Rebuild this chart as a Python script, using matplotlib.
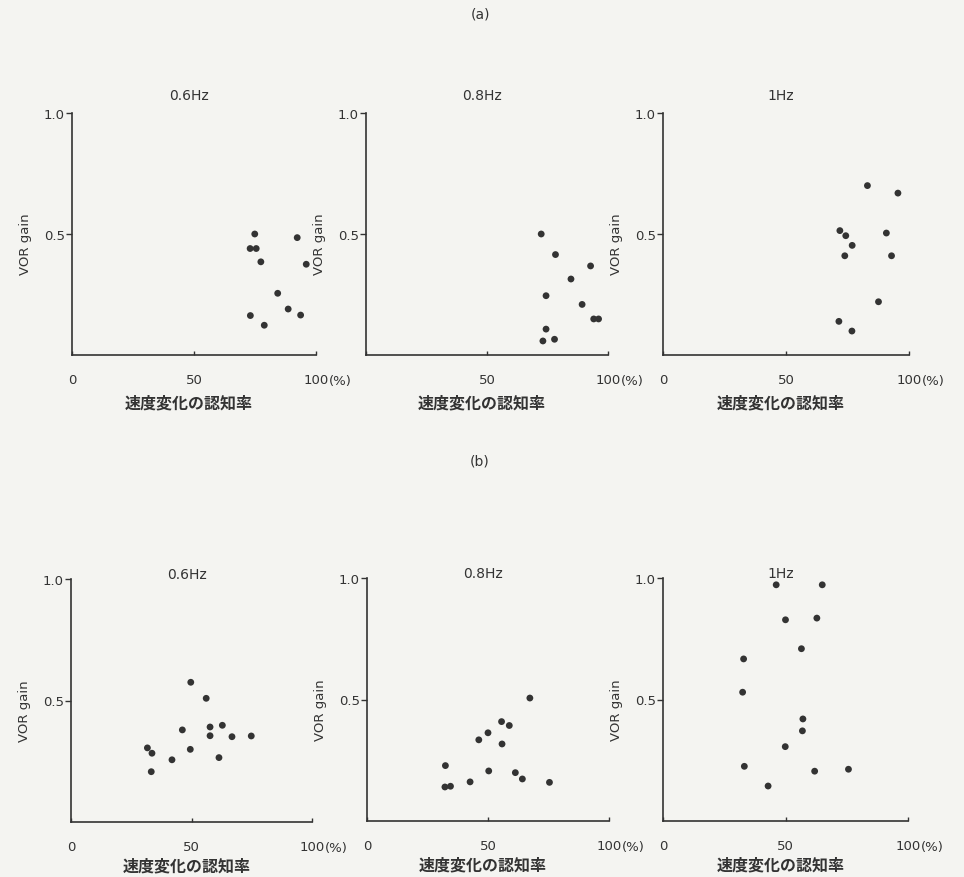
import matplotlib
matplotlib.use('Agg')
import matplotlib.pyplot as plt

# --- STYLE CONFIGURATION ---
plt.rcParams['font.family'] = ['DejaVu Sans', 'Noto Sans CJK JP']
plt.rcParams['text.usetex'] = False

# --- DATA ---
panel_titles = ["0.6Hz", "0.8Hz", "1Hz"]
row_labels = ["(a)", "(b)"]
x_label = "速度変化の認知率"
y_label = "VOR gain"
x_ticks = [0, 50, 100]
x_tick_labels = ["0", "50", "100"]
y_ticks = [0.5, 1.0]
y_tick_labels = ["0.5", "1.0"]

# (a) row
a06_x = [74.9, 73.0, 75.5, 77.4, 92.3, 96.0, 84.3, 88.6, 93.7, 73.1, 78.8]
a06_y = [0.50, 0.44, 0.44, 0.385, 0.485, 0.375, 0.255, 0.19, 0.165, 0.163, 0.123]
a08_x = [72.4, 78.3, 92.8, 84.7, 74.4, 89.3, 94.1, 96.1, 74.4, 73.1, 77.9]
a08_y = [0.50, 0.415, 0.368, 0.314, 0.245, 0.209, 0.149, 0.149, 0.107, 0.058, 0.065]
a10_x = [83.1, 95.5, 71.9, 74.3, 90.8, 76.9, 73.9, 92.9, 87.6, 71.5, 76.8]
a10_y = [0.70, 0.669, 0.514, 0.493, 0.504, 0.453, 0.41, 0.41, 0.22, 0.139, 0.099]

# (b) row
b06_x = [49.7, 56.1, 46.2, 57.7, 62.8, 57.7, 66.8, 74.8, 49.5, 31.7, 33.6, 41.9, 61.4, 33.3]
b06_y = [0.575, 0.509, 0.379, 0.391, 0.398, 0.355, 0.351, 0.354, 0.299, 0.305, 0.283, 0.256, 0.265, 0.207]
b08_x = [67.3, 55.6, 58.8, 50.0, 46.2, 55.8, 32.4, 50.3, 61.3, 64.2, 75.4, 42.6, 32.2, 34.5]
b08_y = [0.506, 0.409, 0.393, 0.363, 0.334, 0.317, 0.228, 0.206, 0.199, 0.173, 0.159, 0.161, 0.140, 0.143]
b10_x = [46.2, 65.0, 50.0, 62.8, 56.5, 32.9, 32.5, 57.1, 56.9, 49.9, 33.2, 61.9, 75.7, 42.9]
b10_y = [0.972, 0.972, 0.828, 0.835, 0.709, 0.667, 0.530, 0.420, 0.371, 0.306, 0.225, 0.205, 0.213, 0.144]

rows = [
    [(a06_x, a06_y), (a08_x, a08_y), (a10_x, a10_y)],
    [(b06_x, b06_y), (b08_x, b08_y), (b10_x, b10_y)],
]

# --- LAYOUT (pixel boxes measured on the 964x878 page) ---
W, H = 964, 878
INK = '#333333'
BG = '#f4f4f1'

# left, right, top, bottom in pixels
boxes = [
    [(72, 316, 114, 356), (366, 608, 114, 356), (663, 909, 114, 356)],
    [(71, 312, 580, 823), (367, 609, 579, 822), (663, 908, 579, 822)],
]
title_offset = [18, 5]      # px above the axes top
xlabel_offset = [39, 35]    # px from axes bottom to top of the x label

fig = plt.figure(figsize=(W / 100, H / 100), dpi=100)
fig.patch.set_facecolor(BG)

cjk = ['Noto Sans CJK JP', 'DejaVu Sans']

for r, row in enumerate(rows):
    for c, (xs, ys) in enumerate(row):
        l, rt, t, b = boxes[r][c]
        ax = fig.add_axes([l / W, 1 - b / H, (rt - l) / W, (b - t) / H])
        ax.set_facecolor('none')
        ax.set_xlim(0, 100)
        ax.set_ylim(0, 1.0)

        ax.scatter(xs, ys, s=24, color=INK, edgecolors='none', zorder=3, clip_on=False)

        for side in ['top', 'right']:
            ax.spines[side].set_visible(False)
        for side in ['left', 'bottom']:
            ax.spines[side].set_color(INK)
            ax.spines[side].set_linewidth(1.2)

        ax.set_yticks(y_ticks)
        ax.set_yticklabels(y_tick_labels)
        ax.tick_params(axis='y', direction='out', length=4, width=1.0, color=INK,
                       labelsize=9.5, labelcolor=INK, pad=1)

        labels = list(x_tick_labels)
        if r == 0 and c == 1:
            labels[0] = ""   # hidden behind the "(%)" of the panel on the left
        ax.set_xticks(x_ticks)
        ax.set_xticklabels(labels)
        ax.tick_params(axis='x', direction='in', length=3, width=1.0, color=INK,
                       labelsize=9.5, labelcolor=INK, pad=13)
        ax.annotate("(%)", xy=(100, 0), xycoords='data', xytext=(9, -18.5),
                    textcoords='offset points', ha='left', va='center',
                    fontsize=9.5, color=INK, annotation_clip=False)

        ax.set_ylabel(y_label, fontsize=9.5, color=INK)
        ax.yaxis.set_label_coords(-40 / (rt - l), 0.46)

        ax.set_xlabel(x_label, fontsize=11.5, fontweight='bold', color=INK, family=cjk)
        ax.xaxis.set_label_coords(0.48, -xlabel_offset[r] / (b - t))

        ax.text(0.48, 1 + title_offset[r] / (b - t), panel_titles[c],
                transform=ax.transAxes, ha='center', va='center',
                fontsize=10, color=INK)

# row labels
fig.text(480 / W, 1 - 15 / H, row_labels[0], ha='center', va='center', fontsize=10, color=INK)
fig.text(480 / W, 1 - 462 / H, row_labels[1], ha='center', va='center', fontsize=10, color=INK)

plt.savefig('out.png', dpi=100, facecolor=BG)
plt.close()
